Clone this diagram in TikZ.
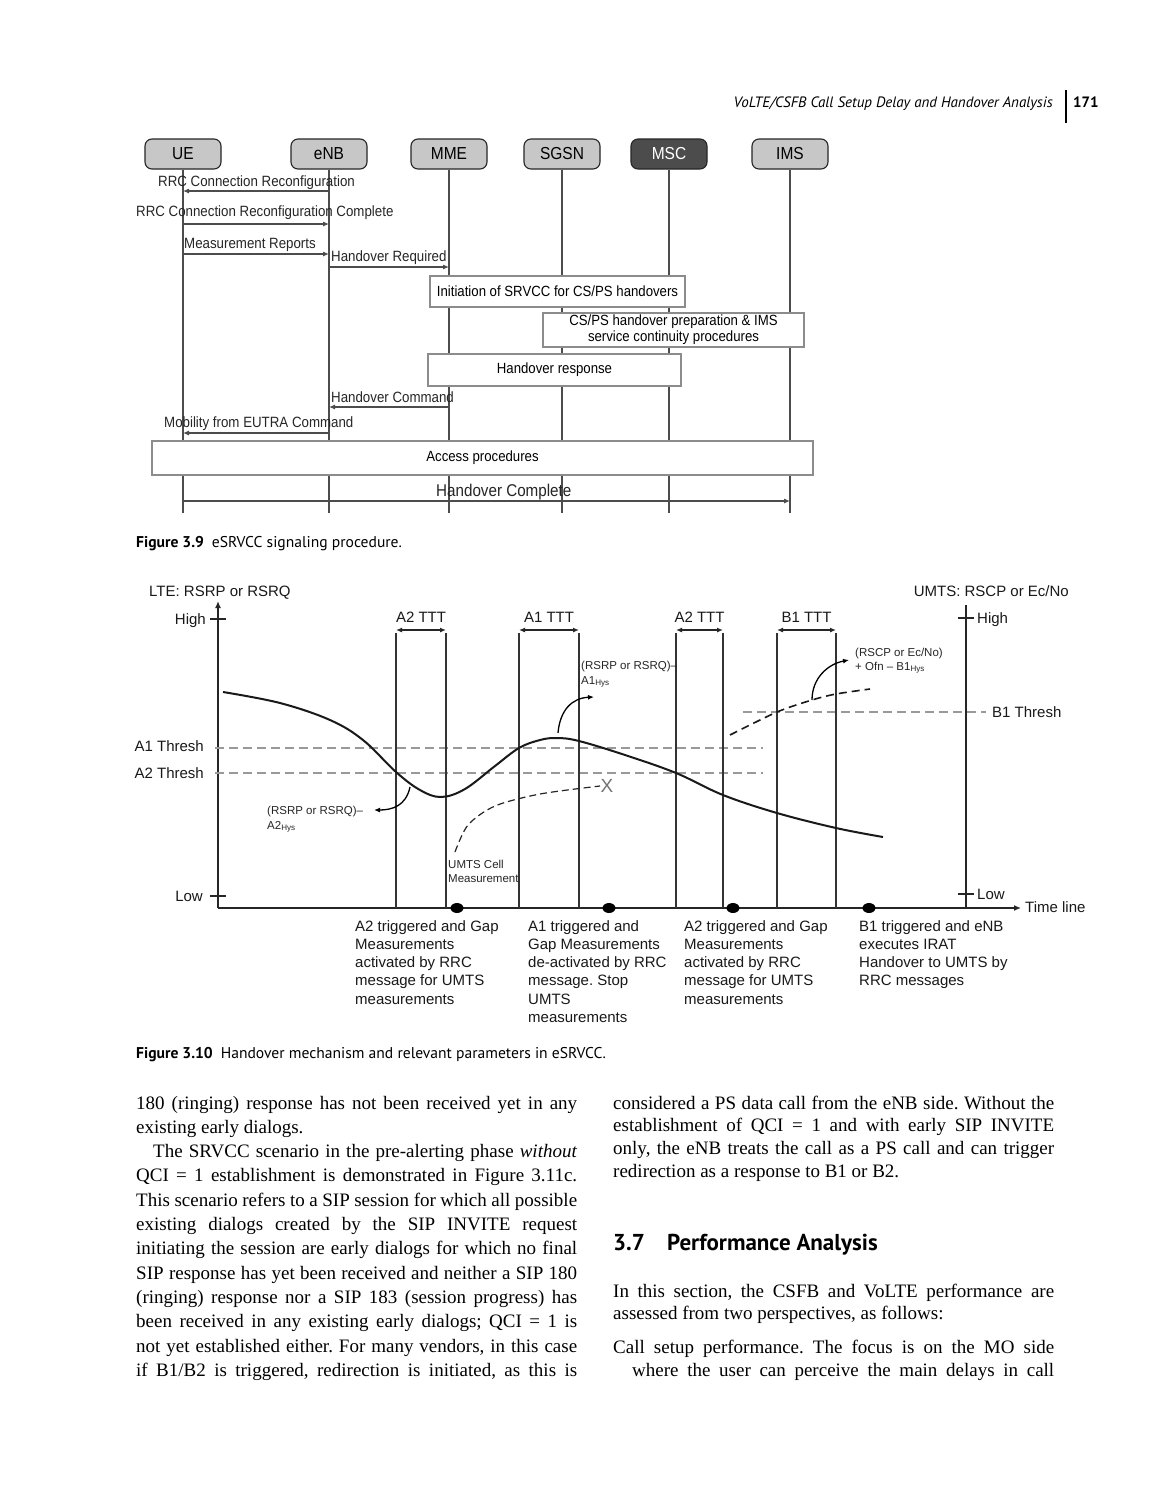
\documentclass[tikz,border=0pt]{standalone}
\usepackage{fontspec}
\setmainfont{Liberation Serif}
\setsansfont{Liberation Sans}
\newfontfamily\capfont{PT Sans}
\usetikzlibrary{arrows.meta}
\newcommand\fsz[1]{\fontsize{#1}{#1}\selectfont}
\newcommand\jl[1]{\makebox[441pt][s]{#1}}
\newcommand\tallt[1]{\scalebox{1}[1.12]{#1}}
\frenchspacing
\begin{document}
\begin{tikzpicture}[x=1pt,y=-1pt,
  lifebox/.style={draw=black!85, line width=1.1pt, rounded corners=7pt, fill=black!22, minimum width=76pt, minimum height=30pt, inner sep=0pt, font=\sffamily\fsz{15.5}},
  lifeline/.style={draw=black!70, line width=1.1pt},
  procbox/.style={draw=black!45, line width=1.2pt, fill=white, inner sep=0pt, align=center, font=\sffamily\fontsize{13.2}{16}\selectfont},
  msgarrow/.style={draw=black!70, line width=1.1pt, -{Latex[length=6pt,width=5pt]}},
  slbl/.style={inner sep=0pt, anchor=base west, font=\sffamily\fsz{13.3}, text=black!85},
  axisline/.style={draw=black!85, line width=1.4pt},
  vlinestyle/.style={draw=black!80, line width=1.2pt},
  threshline/.style={draw=black!40, line width=1.3pt, dash pattern=on 9pt off 5pt},
  glbl/.style={inner sep=0pt, font=\sffamily\fsz{15}, text=black!90},
  tinylbl/.style={inner sep=0pt, anchor=base west, font=\sffamily\fsz{11.5}, text=black!85},
  hysarrow/.style={-{Latex[length=6pt,width=5pt]}},
  bodytext/.style={inner sep=0pt, anchor=base west, font=\fsz{19}},
  captext/.style={inner sep=0pt, anchor=base west, font=\capfont\fsz{15.6}},
  botlbl/.style={inner sep=0pt, anchor=north west, align=left, font=\sffamily\fontsize{15}{18.3}\selectfont, text=black!90},
]
\useasboundingbox (0,0) rectangle (1161,1500);
\fill[white] (0,0) rectangle (1161,1500);

% ---------- running head ----------
\node[inner sep=0pt, anchor=base east, font=\capfont\itshape\fsz{15}] (hdr) at (1053,107) {VoLTE/CSFB Call Setup Delay and Handover Analysis};
\coordinate (bart) at (1066,90);
\coordinate (barb) at (1066,123);
\draw[line width=1.6pt] (bart) -- (barb);
\node[inner sep=0pt, anchor=base west, font=\capfont\bfseries\fsz{15}] (pg) at (1073,107) {171};

% ---------- Figure 3.9 ----------
\node[lifebox] (ue) at (183,154) {\tallt{UE}};
\node[lifebox] (enb) at (329,154) {\tallt{eNB}};
\node[lifebox] (mme) at (449,154) {\tallt{MME}};
\node[lifebox] (sgsn) at (562,154) {\tallt{SGSN}};
\node[lifebox, fill=black!70, text=white] (msc) at (669,154) {\tallt{MSC}};
\node[lifebox] (ims) at (790,154) {\tallt{IMS}};
\foreach \n in {ue,enb,mme,sgsn,msc,ims}{
  \coordinate (\n end) at (\n |- 0,513);
  \draw[lifeline] (\n.south) -- (\n end);
}

\node[procbox, minimum width=255pt, minimum height=31pt] (init) at (557.5,291.5) {\tallt{Initiation of SRVCC for CS/PS handovers}};
\node[procbox, minimum width=261pt, minimum height=34pt] (prep) at (673.5,330) {\tallt{CS/PS handover preparation \& IMS}\\\tallt{service continuity procedures}};
\node[procbox, minimum width=253pt, minimum height=32pt] (resp) at (554.5,370) {\tallt{Handover response}};
\node[procbox, minimum width=661pt, minimum height=34pt] (acc) at (482.5,458) {\tallt{Access procedures}};

\draw[msgarrow] (enb |- 0,191) -- (ue |- 0,191);
\draw[msgarrow] (ue |- 0,224) -- (enb |- 0,224);
\draw[msgarrow] (ue |- 0,254) -- (enb |- 0,254);
\draw[msgarrow] (enb |- 0,267) -- (mme |- 0,267);
\draw[msgarrow] (mme |- 0,407) -- (enb |- 0,407);
\draw[msgarrow] (enb |- 0,433) -- (ue |- 0,433);
\draw[msgarrow] (ue |- 0,501) -- (ims |- 0,501);

\node[slbl] (l1) at (158,186) {\tallt{RRC Connection Reconfiguration}};
\node[slbl] (l2) at (136,216) {\tallt{RRC Connection Reconfiguration Complete}};
\node[slbl] (l3) at (184,248) {\tallt{Measurement Reports}};
\node[slbl] (l4) at (331,261) {\tallt{Handover Required}};
\node[slbl] (l5) at (331,402) {\tallt{Handover Command}};
\node[slbl] (l6) at (164,427) {\tallt{Mobility from EUTRA Command}};
\node[slbl, font=\sffamily\fsz{15.2}] (l7) at (436,496) {\tallt{Handover Complete}};

\node[captext] (c1) at (136,547) {\textbf{Figure 3.9}\hspace{8pt}eSRVCC signaling procedure.};

% ---------- Figure 3.10 ----------
\node[glbl, anchor=base west] (lte) at (149,596) {LTE: RSRP or RSRQ};
\node[glbl, anchor=base east] (umts) at (1069,596) {UMTS: RSCP or Ec/No};

\coordinate (O) at (218,908);
\coordinate (ytop) at (218,601);
\coordinate (xend) at (1021,908);
\coordinate (rtop) at (966,605);
\coordinate (rbot) at (966,908);
\draw[axisline, -{Latex[length=7pt,width=6pt]}] (O) -- (ytop);
\draw[axisline, -{Latex[length=7pt,width=6pt]}] (O) -- (xend);
\draw[axisline] (rbot) -- (rtop);
\draw[axisline, line width=1.1pt] (210,619) -- (226,619);
\draw[axisline, line width=1.1pt] (210,896) -- (226,896);
\draw[axisline, line width=1.1pt] (958,618) -- (974,618);
\draw[axisline, line width=1.1pt] (958,894) -- (974,894);

\node[glbl, anchor=base east] (hiL) at (206,624) {High};
\node[glbl, anchor=base east] (loL) at (203,901) {Low};
\node[glbl, anchor=base west] (hiR) at (977,623) {High};
\node[glbl, anchor=base west] (loR) at (977,899) {Low};
\node[glbl, anchor=base east] (a1t) at (204,751) {A1 Thresh};
\node[glbl, anchor=base east] (a2t) at (204,778) {A2 Thresh};
\node[glbl, anchor=base west] (b1t) at (992,717) {B1 Thresh};
\node[glbl, anchor=base west] (tl) at (1025,912) {Time line};

\draw[threshline] (215,748) -- (763,748);
\draw[threshline] (215,773) -- (763,773);
\draw[threshline] (743,712) -- (986,712);

\foreach \x in {396,446,519,579,676,723,777,836}{
  \draw[vlinestyle] (\x,633) -- (\x,908);
}
\foreach \a/\b/\t in {396/446/A2 TTT, 519/579/A1 TTT, 676/723/A2 TTT, 777/836/B1 TTT}{
  \draw[{Latex[length=6pt,width=5pt]}-{Latex[length=6pt,width=5pt]}, line width=1.2pt, black!85] (\a,630) -- (\b,630);
  \node[glbl, anchor=base] at ({(\a+\b)/2},622) {\t};
}

% main LTE curve
\draw[line width=2pt, black!90] plot[smooth, tension=0.6] coordinates {(223,692) (280,703) (330,720) (363,740) (396,772) (420,790) (441,797) (465,789) (495,766) (519,748) (540,740) (557,738) (579,741) (625,755) (676,773) (723,795) (777,813) (836,828) (883,837)};
% UMTS B1 dashed curve
\draw[line width=1.6pt, dash pattern=on 8pt off 5pt, black!90] plot[smooth] coordinates {(730,735) (777,712) (812,700) (836,694) (870,689)};
% UMTS cell measurement dashed
\draw[line width=1.2pt, dash pattern=on 7pt off 4pt, black!85] plot[smooth] coordinates {(455,852) (468,825) (495,806) (540,794) (600,786)};
\node[inner sep=0pt, font=\sffamily\fsz{19}, text=black!55] (xm) at (607,786) {X};

\draw[hysarrow, line width=1.3pt] (410,787) .. controls (406,806) and (392,810) .. (374,810);
\draw[hysarrow, line width=1.3pt] (558,733) .. controls (560,710) and (572,698) .. (594,697);
\draw[hysarrow, line width=1.3pt] (812,700) .. controls (812,678) and (828,664) .. (849,660);

\node[tinylbl] (h1) at (267,814) {(RSRP or RSRQ)–};
\node[tinylbl] (h2) at (267,829) {A2\textsubscript{Hys}};
\node[tinylbl] (h3) at (581,669) {(RSRP or RSRQ)–};
\node[tinylbl] (h4) at (581,684) {A1\textsubscript{Hys}};
\node[tinylbl] (h5) at (855,656) {(RSCP or Ec/No)};
\node[tinylbl] (h6) at (855,670) {+ Ofn – B1\textsubscript{Hys}};
\node[tinylbl] (u1) at (448,868) {UMTS Cell};
\node[tinylbl] (u2) at (448,882) {Measurement};

\foreach \x in {457,609,733,869}{
  \fill[black] (\x,908) ellipse [x radius=6.5pt, y radius=5pt];
}

\node[botlbl] (b1) at (355,920) {A2 triggered and Gap\\Measurements\\activated by RRC\\message for UMTS\\measurements};
\node[botlbl] (b2) at (528,920) {A1 triggered and\\Gap Measurements\\de-activated by RRC\\message. Stop\\UMTS\\measurements};
\node[botlbl] (b3) at (684,920) {A2 triggered and Gap\\Measurements\\activated by RRC\\message for UMTS\\measurements};
\node[botlbl] (b4) at (859,920) {B1 triggered and eNB\\executes IRAT\\Handover to UMTS by\\RRC messages};

\node[captext] (c2) at (136,1058) {\textbf{Figure 3.10}\hspace{8pt}Handover mechanism and relevant parameters in eSRVCC.};

% ---------- body text, left column ----------
\node[bodytext] (t1) at (136,1109) {\jl{180 (ringing) response has not been received yet in any}};
\node[bodytext] (t2) at (136,1133.3) {existing early dialogs.};
\node[bodytext] (t3) at (153,1157.6) {\makebox[424pt][s]{The SRVCC scenario in the pre-alerting phase \textit{without}}};
\node[bodytext] (t4) at (136,1181.9) {\jl{QCI = 1 establishment is demonstrated in Figure 3.11c.}};
\node[bodytext] (t5) at (136,1206.2) {\jl{This scenario refers to a SIP session for which all possible}};
\node[bodytext] (t6) at (136,1230.5) {\jl{existing dialogs created by the SIP INVITE request}};
\node[bodytext] (t7) at (136,1254.8) {\jl{initiating the session are early dialogs for which no final}};
\node[bodytext] (t8) at (136,1279.1) {\jl{SIP response has yet been received and neither a SIP 180}};
\node[bodytext] (t9) at (136,1303.4) {\jl{(ringing) response nor a SIP 183 (session progress) has}};
\node[bodytext] (t10) at (136,1327.7) {\jl{been received in any existing early dialogs; QCI = 1 is}};
\node[bodytext] (t11) at (136,1352) {\jl{not yet established either. For many vendors, in this case}};
\node[bodytext] (t12) at (136,1376.3) {\jl{if B1/B2 is triggered, redirection is initiated, as this is}};

% ---------- body text, right column ----------
\node[bodytext] (r1) at (613,1109) {\jl{considered a PS data call from the eNB side. Without the}};
\node[bodytext] (r2) at (613,1131.7) {\jl{establishment of QCI = 1 and with early SIP INVITE}};
\node[bodytext] (r3) at (613,1154.3) {\jl{only, the eNB treats the call as a PS call and can trigger}};
\node[bodytext] (r4) at (613,1177) {redirection as a response to B1 or B2.};
\node[inner sep=0pt, anchor=base west, font=\capfont\bfseries\fsz{23}] (s1) at (613,1250) {3.7};
\node[inner sep=0pt, anchor=base west, font=\capfont\bfseries\fsz{23}] (s2) at (667,1250) {Performance Analysis};
\node[bodytext] (r5) at (613,1297) {\jl{In this section, the CSFB and VoLTE performance are}};
\node[bodytext] (r6) at (613,1319) {assessed from two perspectives, as follows:};
\node[bodytext] (r7) at (613,1353) {\jl{Call setup performance. The focus is on the MO side}};
\node[bodytext] (r8) at (632,1376) {\makebox[422pt][s]{where the user can perceive the main delays in call}};
\end{tikzpicture}
\end{document}
